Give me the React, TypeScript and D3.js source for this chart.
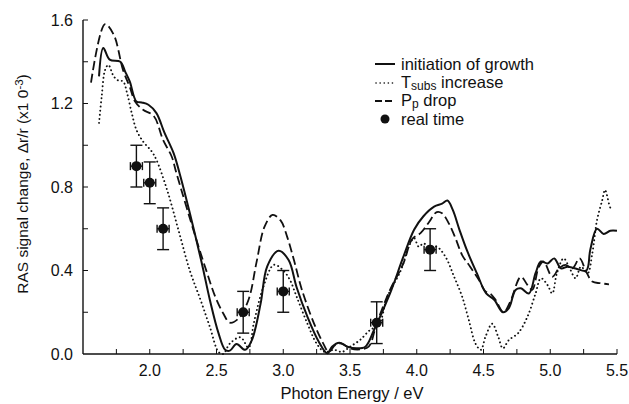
import React from "react";
import * as d3 from "d3";

// RAS spectra, [photon energy (eV), signal (x10^-3)]
const growthCurve: [number, number][] = [
  [1.62, 1.33], [1.652, 1.466], [1.7, 1.41], [1.78, 1.4], [1.815, 1.354], [1.85, 1.306],
  [1.9, 1.21], [1.94, 1.205], [1.99, 1.194], [2.05, 1.154], [2.11, 1.06], [2.18, 0.96],
  [2.23, 0.85], [2.3, 0.675], [2.39, 0.435], [2.45, 0.26], [2.515, 0.1], [2.565, 0.02],
  [2.6, 0.016], [2.65, 0.048], [2.715, 0.02], [2.765, 0.067], [2.83, 0.24], [2.88, 0.42],
  [2.965, 0.495], [3.04, 0.45], [3.1, 0.32], [3.18, 0.18], [3.265, 0.06], [3.33, 0.003],
  [3.365, 0.035], [3.42, 0.054], [3.48, 0.035], [3.55, 0.027], [3.615, 0.035], [3.68, 0.115],
  [3.8, 0.29], [3.9, 0.466], [3.98, 0.595], [4.05, 0.66], [4.13, 0.706], [4.19, 0.72],
  [4.23, 0.735], [4.27, 0.69], [4.32, 0.595], [4.38, 0.49], [4.45, 0.387], [4.52, 0.29],
  [4.58, 0.26], [4.645, 0.2], [4.69, 0.22], [4.74, 0.307], [4.78, 0.315], [4.84, 0.29],
  [4.89, 0.387], [4.93, 0.443], [4.98, 0.434], [5.03, 0.458], [5.08, 0.41], [5.13, 0.418],
  [5.19, 0.41], [5.27, 0.4], [5.3, 0.5], [5.35, 0.6], [5.4, 0.575], [5.45, 0.59], [5.5, 0.59],
];

const tsubsCurve: [number, number][] = [
  [1.62, 1.107], [1.64, 1.234], [1.665, 1.36], [1.69, 1.385], [1.73, 1.33], [1.765, 1.31],
  [1.8, 1.306], [1.83, 1.25], [1.865, 1.154], [1.9, 1.074], [1.95, 1.018], [2.015, 0.97],
  [2.05, 0.93], [2.13, 0.786], [2.215, 0.594], [2.3, 0.4], [2.38, 0.26], [2.45, 0.13],
  [2.515, 0.01], [2.55, 0.0], [2.6, 0.05], [2.68, 0.08], [2.74, 0.03], [2.78, 0.15],
  [2.85, 0.32], [2.93, 0.427], [3.0, 0.4], [3.05, 0.355], [3.1, 0.275], [3.18, 0.147],
  [3.25, 0.05], [3.31, 0.01], [3.38, 0.02], [3.44, 0.01], [3.5, 0.035], [3.575, 0.067],
  [3.65, 0.115], [3.715, 0.139], [3.78, 0.275], [3.88, 0.4], [3.94, 0.514], [3.98, 0.555],
  [4.015, 0.514], [4.05, 0.53], [4.09, 0.514], [4.15, 0.514], [4.215, 0.466], [4.28, 0.37],
  [4.34, 0.275], [4.39, 0.163], [4.44, 0.05], [4.48, 0.02], [4.515, 0.083], [4.565, 0.145],
  [4.61, 0.083], [4.645, 0.027], [4.69, 0.067], [4.76, 0.1], [4.83, 0.18], [4.89, 0.29],
  [4.93, 0.363], [4.98, 0.33], [5.015, 0.29], [5.05, 0.387], [5.1, 0.458], [5.14, 0.418],
  [5.19, 0.363], [5.23, 0.418], [5.28, 0.387], [5.315, 0.483], [5.35, 0.64], [5.39, 0.738],
  [5.41, 0.786], [5.44, 0.72], [5.45, 0.7],
];

const ppDropCurve: [number, number][] = [
  [1.56, 1.3], [1.665, 1.58], [1.73, 1.53], [1.8, 1.36], [1.85, 1.28], [1.89, 1.21],
  [1.95, 1.17], [2.03, 1.14], [2.1, 1.025], [2.165, 0.945], [2.2, 0.866], [2.35, 0.546],
  [2.43, 0.387], [2.49, 0.275], [2.55, 0.195], [2.6, 0.15], [2.665, 0.17], [2.74, 0.26],
  [2.8, 0.44], [2.86, 0.61], [2.92, 0.666], [2.98, 0.64], [3.03, 0.56], [3.08, 0.45],
  [3.14, 0.307], [3.23, 0.147], [3.3, 0.05], [3.34, 0.01], [3.39, 0.043], [3.44, 0.05],
  [3.5, 0.027], [3.575, 0.022], [3.64, 0.035], [3.7, 0.147], [3.8, 0.307], [3.9, 0.434],
  [3.965, 0.55], [4.03, 0.58], [4.09, 0.63], [4.15, 0.68], [4.19, 0.674], [4.24, 0.626],
  [4.29, 0.555], [4.34, 0.474], [4.4, 0.418], [4.465, 0.355], [4.515, 0.3], [4.55, 0.29],
  [4.59, 0.26], [4.65, 0.2], [4.7, 0.25], [4.78, 0.37], [4.83, 0.33], [4.865, 0.307],
  [4.915, 0.418], [4.95, 0.443], [5.015, 0.37], [5.065, 0.41], [5.115, 0.427], [5.165, 0.41],
  [5.22, 0.458], [5.265, 0.4], [5.315, 0.347], [5.375, 0.339], [5.44, 0.334],
];

// real-time measurements with error bars
const rtEnergy = [1.9, 2.0, 2.1, 2.7, 3.0, 3.7, 4.1];
const rtValue = [0.9, 0.82, 0.6, 0.2, 0.3, 0.15, 0.5];
const rtErrY = 0.1;
const rtErrX = 0.045;

const xTickLabels = [2.0, 2.5, 3.0, 3.5, 4.0, 4.5, 5.0, 5.5];
const yTickLabels = [0.0, 0.4, 0.8, 1.2, 1.6];

const FONT = "'Liberation Sans', Arial, Helvetica, sans-serif";
const INK = "#111";

export default function App() {
  const width = 629;
  const height = 404;

  const x = d3.scaleLinear().domain([1.5, 5.5]).range([83, 617]);
  const y = d3.scaleLinear().domain([0, 1.6]).range([354, 20]);

  const line = d3
    .line<[number, number]>()
    .x((d) => x(d[0]))
    .y((d) => y(Math.max(0, d[1])))
    .curve(d3.curveCatmullRom.alpha(0.5));

  const minorX = d3.range(1.75, 5.51, 0.25);
  const minorY = d3.range(0.2, 1.61, 0.2);

  return (
    <svg
      width={width}
      height={height}
      style={{ position: "absolute", left: 0, top: 0, background: "#fff" }}
      fontFamily={FONT}
    >
      {/* axes */}
      <line x1={x(1.5)} x2={x(1.5)} y1={y(1.6)} y2={y(0)} stroke={INK} strokeWidth={1.4} />
      <line x1={x(1.5)} x2={x(5.5)} y1={y(0)} y2={y(0)} stroke={INK} strokeWidth={1.4} />
      {minorX.map((t, i) => (
        <line key={`xt-${i}`} x1={x(t)} x2={x(t)} y1={y(0)} y2={y(0) - 5} stroke={INK} strokeWidth={1} />
      ))}
      {minorY.map((t, i) => (
        <line key={`yt-${i}`} x1={x(1.5)} x2={x(1.5) + 5} y1={y(t)} y2={y(t)} stroke={INK} strokeWidth={1} />
      ))}
      {xTickLabels.map((t) => (
        <text key={`xl-${t}`} x={x(t)} y={376} textAnchor="middle" fontSize={16} fill={INK}>
          {t.toFixed(1)}
        </text>
      ))}
      {yTickLabels.map((t) => (
        <text key={`yl-${t}`} x={73} y={y(t) + 5.5} textAnchor="end" fontSize={16} fill={INK}>
          {t.toFixed(1)}
        </text>
      ))}

      {/* axis titles */}
      <text x={352} y={399} textAnchor="middle" fontSize={16.5} fill={INK}>
        Photon Energy / eV
      </text>
      <text
        transform={`translate(28, 184) rotate(-90)`}
        textAnchor="middle"
        fontSize={15.5}
        fill={INK}
      >
        RAS signal change,  Δr/r (x1 0
        <tspan dy={-5} fontSize={11.5}>-3</tspan>
        <tspan dy={5}>)</tspan>
      </text>

      {/* spectra */}
      <path d={line(ppDropCurve) ?? ""} fill="none" stroke={INK} strokeWidth={1.8} strokeDasharray="9 4" />
      <path
        d={line(tsubsCurve) ?? ""}
        fill="none"
        stroke={INK}
        strokeWidth={1.9}
        strokeDasharray="0.1 4"
        strokeLinecap="round"
      />
      <path d={line(growthCurve) ?? ""} fill="none" stroke={INK} strokeWidth={2} />

      {/* real-time points */}
      {rtEnergy.map((e, i) => {
        const cx = x(e);
        const cy = y(rtValue[i]);
        const top = y(rtValue[i] + rtErrY);
        const bot = y(rtValue[i] - rtErrY);
        const left = x(e - rtErrX);
        const right = x(e + rtErrX);
        return (
          <g key={`rt-${i}`} stroke={INK} strokeWidth={1.4}>
            <line x1={cx} x2={cx} y1={top} y2={bot} />
            <line x1={cx - 6} x2={cx + 6} y1={top} y2={top} />
            <line x1={cx - 6} x2={cx + 6} y1={bot} y2={bot} />
            <line x1={left} x2={right} y1={cy} y2={cy} />
            <line x1={left} x2={left} y1={cy - 4} y2={cy + 4} />
            <line x1={right} x2={right} y1={cy - 4} y2={cy + 4} />
            <circle cx={cx} cy={cy} r={5} fill={INK} stroke="none" />
          </g>
        );
      })}

      {/* legend */}
      <g fontSize={16.5} fill={INK}>
        <line x1={375} x2={395} y1={64} y2={64} stroke={INK} strokeWidth={2} />
        <text x={401} y={70}>initiation of growth</text>
        <line
          x1={376}
          x2={395}
          y1={83}
          y2={83}
          stroke={INK}
          strokeWidth={1.6}
          strokeDasharray="0.1 4"
          strokeLinecap="round"
        />
        <text x={401} y={88}>
          T<tspan dy={2} fontSize={12}>subs</tspan>
          <tspan dy={-2}> increase</tspan>
        </text>
        <line x1={375} x2={395} y1={101} y2={101} stroke={INK} strokeWidth={1.8} strokeDasharray="7 3" />
        <text x={401} y={106}>
          P<tspan dy={2} fontSize={12}>p</tspan>
          <tspan dy={-2}> drop</tspan>
        </text>
        <circle cx={385} cy={119} r={4.5} fill={INK} />
        <text x={401} y={125}>real time</text>
      </g>
    </svg>
  );
}
